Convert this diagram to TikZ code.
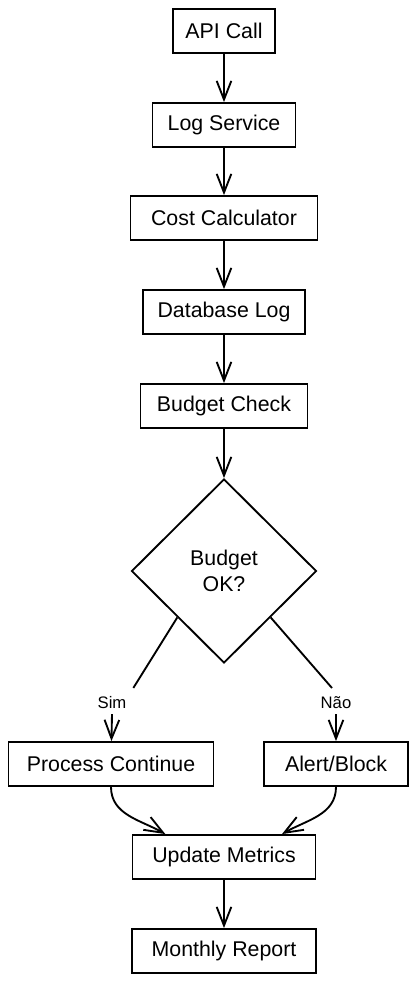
\documentclass[tikz,border=0pt]{standalone}
\usepackage{fontspec}
\setmainfont{Liberation Sans}
\usetikzlibrary{arrows.meta,shapes.geometric}

\begin{document}
\begin{tikzpicture}[x=0.75pt, y=-0.75pt, line width=1.4pt,
    >={Straight Barb[length=14pt, width=11pt, line width=1.4pt]},
    every node/.style={font=\fontsize{16}{19}\selectfont, inner sep=0pt},
    box/.style={draw, rectangle, minimum height=33pt},
    label/.style={font=\fontsize{12.5}{15}\selectfont}]
    \useasboundingbox (0,0) rectangle (418,983);
    % main chain
    \foreach \name/\txt/\y/\w in {api/API Call/31/102, log/Log Service/125/143,
        cost/Cost Calculator/218/187, db/Database Log/312/162, check/Budget Check/406/167} {
        \node[box, minimum width={\w*0.75pt}] (\name) at (224,\y) {\txt};
    }
    \node[draw, diamond, aspect=1, minimum width=138.75pt, minimum height=138pt, align=center]
        (ok) at (224,571) {Budget\\OK?};
    \node[label] (sim) at (112,703) {Sim};
    \node[label] (nao) at (336,703) {Não};
    \node[box, minimum width=153.75pt] (cont) at (111,764) {Process Continue};
    \node[box, minimum width=108pt] (alert) at (336,764) {Alert/Block};
    \node[box, minimum width=137.25pt] (upd) at (224,857) {Update Metrics};
    \node[box, minimum width=138pt] (rep) at (224,951) {Monthly Report};
    \foreach \a/\b in {api/log, log/cost, cost/db, db/check, check/ok, upd/rep} {
        \draw[->] (\a) -- (\b);
    }
    % branches
    \draw (ok.south west) -- ([xshift=16pt, yshift=6pt]sim.north);
    \draw (ok.south east) -- ([xshift=-3pt, yshift=6pt]nao.north);
    \draw[->] ([yshift=-3pt]sim.south) -- (cont);
    \draw[->] ([yshift=-3pt]nao.south) -- (alert);
    \draw[->] (cont.south) to[out=-90, in=150] ([xshift=-44pt]upd.north);
    \draw[->] (alert.south) to[out=-90, in=30] ([xshift=43.5pt]upd.north);
\end{tikzpicture}
\end{document}
